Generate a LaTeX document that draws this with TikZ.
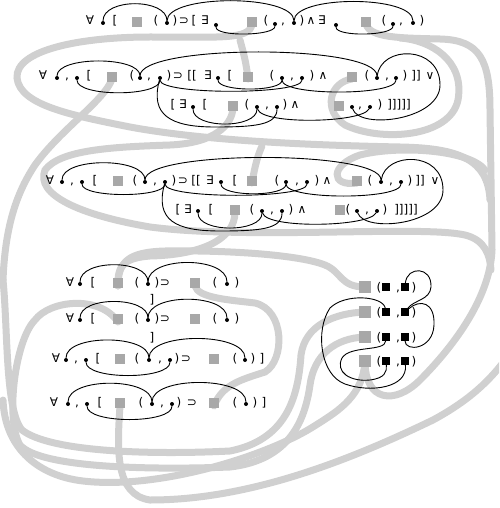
\documentclass[tikz,border=0pt]{standalone}
\usepackage{fontspec}
\setmainfont{DejaVu Sans}
\definecolor{bandgray}{HTML}{D0D0D0}
\definecolor{sqgray}{HTML}{A8A8A8}
\newcommand\vdot[3]{\node[vd] (#1) at (#2,#3) {};}
\newcommand\gsqr[3]{\node[gsq] (#1) at (#2,#3) {};}
\newcommand\uarc[3]{\draw[bind] (#1) .. controls +(0,-#3) and +(0,-#3) .. (#2);}
\newcommand\darc[3]{\draw[bind] (#1) .. controls +(0,#3) and +(0,#3) .. (#2);}
\begin{document}
\begin{tikzpicture}[x=1pt,y=-1pt,
  band/.style={line width=7pt,draw=bandgray,line cap=round},
  bind/.style={line width=0.9pt,draw=black},
  vd/.style={circle,fill=black,inner sep=0pt,minimum size=4pt},
  gsq/.style={fill=sqgray,inner sep=0pt,minimum size=10.5pt},
  gsqb/.style={fill=sqgray,inner sep=0pt,minimum size=12pt},
  bsq/.style={fill=black,inner sep=0pt,minimum size=7.5pt},
  tk/.style={inner sep=0pt,anchor=base,font=\fontsize{12}{14}\selectfont}]
\useasboundingbox (0,0) rectangle (499,508);
\begin{scope}
\clip (0,0) rectangle (499,508);
% ---------- gray bands ----------
\coordinate (b1s) at (252,24);
\coordinate (b2s) at (366,24);
\coordinate (b3s) at (352,79);
\coordinate (b4s) at (112,79);
\coordinate (b5s) at (233,108);
\coordinate (b6s) at (357,183);
\coordinate (b8s) at (235,212);
\coordinate (b9s) at (252,183);
\coordinate (b1b) at (248,79);
\coordinate (bl1s) at (195,286);
\coordinate (bl1e) at (214,406);
\coordinate (r4ds) at (120,406);
\coordinate (r4as) at (118,286);
\coordinate (r4bs) at (118,322);
\coordinate (rbs1) at (365,287);
\coordinate (rbs2) at (365,312);
\coordinate (rbs3) at (365,337);
\coordinate (rbs4) at (365,361);
% row-2 loop
\draw[band] (b1s) .. controls (250,40) and (220,37) .. (150,37) .. controls (80,37) and (15,50) .. (17,78) .. controls (20,105) and (70,115) .. (130,127) .. controls (200,140) and (300,145) .. (400,147) .. controls (460,148) and (488,160) .. (490,200);
\draw[band] (b1b) .. controls (246,60) and (242,48) .. (240,40);
% right side band down to the last square of the block
\draw[band] (b2s) .. controls (370,38) and (400,38) .. (440,39) .. controls (480,40) and (490,60) .. (490,110) -- (492,250) .. controls (490,300) and (450,350) .. (420,380) .. controls (395,405) and (365,402) .. (rbs4);
% loop round the right of row 2
\draw[band] (b3s) .. controls (330,82) and (322,110) .. (345,125) .. controls (380,142) and (450,138) .. (458,100) .. controls (465,60) and (430,40) .. (400,38);
% from row 2 to the left edge
\draw[band] (b4s) .. controls (105,100) and (60,130) .. (35,165) .. controls (15,195) and (5,230) .. (3,280);
% row-3 loop
\draw[band] (b5s) .. controls (232,125) and (215,143) .. (170,145) .. controls (110,147) and (60,150) .. (45,170) .. controls (35,195) and (80,215) .. (150,227) .. controls (250,240) and (420,225) .. (465,235) .. controls (485,240) and (490,255) .. (491,270);
\draw[band] (b6s) .. controls (330,187) and (330,165) .. (360,155) .. controls (400,145) and (470,150) .. (485,170);
\draw[band] (b8s) .. controls (235,240) and (200,255) .. (150,256) .. controls (125,258) and (117,265) .. (r4as);
\draw[band] (b9s) .. controls (255,165) and (258,155) .. (262,146);
% from row 4a to the first square of the block
\draw[band] (r4as) .. controls (118,262) and (128,252) .. (165,251) .. controls (230,250) and (300,255) .. (325,265) .. controls (342,272) and (340,287) .. (rbs1);
% loop right of rows 4
\draw[band] (bl1s) .. controls (198,298) and (230,300) .. (255,303) .. controls (285,310) and (285,360) .. (265,372) .. controls (240,380) and (222,385) .. (bl1e);
% sweeps along the bottom
\draw[band] (rbs2) .. controls (335,313) and (305,325) .. (301,355) .. controls (298,400) and (285,440) .. (230,451) .. controls (150,455) and (50,452) .. (22,430) .. controls (5,410) and (8,330) .. (3,280);
\draw[band] (rbs3) .. controls (335,338) and (314,355) .. (310,385) .. controls (305,420) and (290,460) .. (230,467) .. controls (150,470) and (40,468) .. (20,445) .. controls (5,420) and (15,340) .. (35,320) .. controls (50,300) and (100,295) .. (r4bs);
\draw[band] (rbs4) .. controls (363,395) and (340,410) .. (316,425) .. controls (270,455) and (160,490) .. (83,481) .. controls (40,476) and (5,450) .. (3,400);
\draw[band] (r4ds) .. controls (117,450) and (115,495) .. (150,500) .. controls (250,500) and (350,460) .. (433,420) .. controls (470,400) and (490,380) .. (505,360);
\end{scope}
% ---------- row 1 ----------
\foreach \x/\t [count=\i] in {90/∀,115/[,156/(,175/),184/⊃,194/[,205/∃,266/(,283/{,},302/),311/∧,322/∃,384/(,401/{,},422/)}
  \node[tk] (r1t\i) at (\x,25) {\t};
\vdot{d1a}{103}{23}\vdot{d1b}{167}{23}\vdot{d1c}{216}{25}\vdot{d1d}{275}{24}
\vdot{d1e}{294}{23}\vdot{d1f}{336}{25}\vdot{d1g}{393}{24}\vdot{d1h}{413}{23}
\gsqr{s1a}{137}{22}\gsqr{s1b}{252}{22}\gsqr{s1c}{366}{22}
\uarc{d1a}{d1b}{25}\uarc{d1b}{d1e}{29}\uarc{d1e}{d1h}{28}
\darc{d1c}{d1d}{12}\darc{d1f}{d1g}{12}
% ---------- row 2 ----------
\foreach \x/\t [count=\i] in {43/∀,67/{,},89/[,132/(,149/{,},169/),178/⊃,192/[[,208/∃,230/[,272/(,292/{,},312/),323/∧,367/(,387/{,},405/),416/]],430/∨}
  \node[tk] (r2t\i) at (\x,80) {\t};
\foreach \x/\t [count=\i] in {173/[,183/∃,205/[,247/(,267/{,},285/),295/∧,360/{,},380/),399/]]]]]}
  \node[tk] (r2u\i) at (\x,109) {\t};
\vdot{d2a}{57}{78}\vdot{d2b}{77}{78}\vdot{d2c}{140}{78}\vdot{d2d}{160}{78}
\vdot{d2e}{218}{78}\vdot{d2f}{282}{78}\vdot{d2g}{302}{78}\vdot{d2h}{377}{78}\vdot{d2i}{396}{78}
\vdot{d2k}{193}{107}\vdot{d2l}{257}{107}\vdot{d2m}{277}{107}\vdot{d2n}{352}{107}\vdot{d2o}{370}{107}
\gsqr{s2a}{112}{77}\gsqr{s2b}{248}{77}\gsqr{s2c}{352}{77}\gsqr{s2d}{233}{106}\gsqr{s2e}{339}{106}
\uarc{d2a}{d2c}{22}\darc{d2b}{d2d}{19}\uarc{d2c}{d2h}{34}
\darc{d2e}{d2f}{14}\darc{d2d}{d2g}{17}\darc{d2f}{d2i}{18}
\draw[bind] (d2d) .. controls (150,115) and (170,127) .. (215,127) .. controls (255,127) and (277,125) .. (d2m);
\darc{d2k}{d2l}{22}
\draw[bind] (d2l) .. controls +(5,18) and +(-8,16) .. (d2o);
\draw[bind] (d2h) .. controls (381,45) and (440,45) .. (440,85) .. controls (440,120) and (360,130) .. (d2n);
% ---------- row 3 ----------
\foreach \x/\t [count=\i] in {50/∀,72/{,},95/[,135/(,155/{,},174/),183/⊃,196/[[,210/∃,235/[,277/(,297/{,},317/),327/∧,370/(,391/{,},410/),420/]],435/∨}
  \node[tk] (r3t\i) at (\x,184) {\t};
\foreach \x/\t [count=\i] in {178/[,188/∃,211/[,252/(,272/{,},291/),302/∧,348/(,367/{,},385/),406/]]]]]}
  \node[tk] (r3u\i) at (\x,213) {\t};
\vdot{d3a}{62}{182}\vdot{d3b}{82}{182}\vdot{d3c}{145}{182}\vdot{d3d}{165}{182}
\vdot{d3e}{221}{182}\vdot{d3f}{286}{182}\vdot{d3g}{307}{182}\vdot{d3h}{381}{182}\vdot{d3i}{401}{182}
\vdot{d3k}{198}{211}\vdot{d3l}{262}{211}\vdot{d3m}{282}{211}\vdot{d3n}{357}{211}\vdot{d3o}{377}{211}
\gsqr{s3a}{118}{181}\gsqr{s3b}{252}{181}\gsqr{s3c}{357}{181}\gsqr{s3d}{235}{210}\gsqr{s3e}{340}{210}
\uarc{d3a}{d3c}{25}\darc{d3b}{d3d}{16}\uarc{d3c}{d3h}{32}
\darc{d3e}{d3f}{15}\darc{d3d}{d3g}{17}\darc{d3f}{d3i}{18}
\draw[bind] (d3d) .. controls (155,220) and (175,231) .. (220,231) .. controls (260,231) and (282,229) .. (d3m);
\darc{d3k}{d3l}{22}
\draw[bind] (d3l) .. controls +(5,18) and +(-8,16) .. (d3o);
\draw[bind] (d3h) .. controls (385,152) and (443,150) .. (443,190) .. controls (443,225) and (365,233) .. (d3n);
% ---------- row 4 ----------
\foreach \yy/\r in {286/a,322/b}{
  \foreach \x/\t [count=\i] in {70/∀,93/[,137/(,157/),165/⊃,215/(,237/)}
    \node[tk] (r4\r t\i) at (\x,\yy) {\t};
}
\node[tk] (r4abr) at (152,303) {]};
\node[tk] (r4bbr) at (152,341) {]};
\vdot{d4a1}{80}{284}\vdot{d4a2}{148}{284}\vdot{d4a3}{227}{284}
\vdot{d4b1}{80}{320}\vdot{d4b2}{148}{320}\vdot{d4b3}{227}{320}
\gsqr{s4a1}{118}{283}\gsqr{s4a2}{195}{283}\gsqr{s4b1}{118}{319}\gsqr{s4b2}{195}{319}
\uarc{d4a1}{d4a2}{25}\uarc{d4a2}{d4a3}{28}
\uarc{d4b1}{d4b2}{24}\uarc{d4b2}{d4b3}{27}
\foreach \x/\t [count=\i] in {56/∀,76/{,},98/[,137/(,160/{,},177/),186/⊃,235/(,253/),262/]}
  \node[tk] (r4ct\i) at (\x,362) {\t};
\foreach \x/\t [count=\i] in {54/∀,77/{,},100/[,141/(,162/{,},179/),192/⊃,235/(,255/),264/]}
  \node[tk] (r4dt\i) at (\x,406) {\t};
\vdot{d4c1}{66}{360}\vdot{d4c2}{86}{360}\vdot{d4c3}{149}{360}\vdot{d4c4}{170}{360}\vdot{d4c5}{245}{360}
\vdot{d4d1}{68}{404}\vdot{d4d2}{87}{404}\vdot{d4d3}{152}{404}\vdot{d4d4}{172}{404}\vdot{d4d5}{246}{404}
\gsqr{s4c1}{120}{359}\gsqr{s4c2}{214}{359}\gsqr{s4d1}{120}{403}\gsqr{s4d2}{214}{403}
\uarc{d4c1}{d4c3}{26}\uarc{d4c3}{d4c5}{28}\darc{d4c2}{d4c4}{20}
\uarc{d4d1}{d4d3}{27}\uarc{d4d3}{d4d5}{28}\darc{d4d2}{d4d4}{20}
% ---------- right block ----------
\foreach \yy [count=\i] in {287,312,337,361}{
  \node[gsqb] (rbg\i) at (365,\yy) {};
  \node[tk] (rbo\i) at (379,\yy+4) {(};
  \node[bsq] (rba\i) at (386,\yy) {};
  \node[tk] (rbc\i) at (398,\yy+4) {,};
  \node[bsq] (rbb\i) at (405,\yy) {};
  \node[tk] (rbp\i) at (414,\yy+4) {)};
}
\draw[bind] (rbb1) .. controls (407,266) and (432,266) .. (431,287) .. controls (430,300) and (414,300) .. (rbb2);
\draw[bind] (rbb2) .. controls (420,299) and (435,302) .. (434,325) .. controls (433,350) and (405,352) .. (rbb3);
\draw[bind] (rba2) .. controls (383,296) and (345,293) .. (330,308) .. controls (315,330) and (320,375) .. (345,384) .. controls (370,393) and (408,388) .. (rbb4);
\draw[bind] (rba3) .. controls (385,352) and (350,345) .. (342,358) .. controls (335,372) and (350,382) .. (370,380) .. controls (385,378) and (387,372) .. (rba4);
\end{tikzpicture}
\end{document}
